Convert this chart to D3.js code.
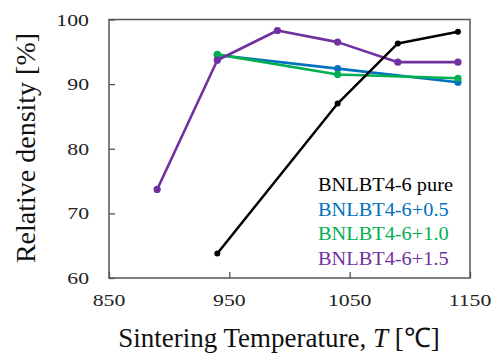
<!DOCTYPE html>
<html><head><meta charset="utf-8">
<script src="https://cdn.jsdelivr.net/npm/d3@7"></script>
<style>
body{margin:0;}
.ser{font-family:'Liberation Serif';}
</style>
</head><body>
<svg id="c" width="495" height="354"></svg>
<script>
const xTicks = [850, 950, 1050, 1150];
const yTicks = [60, 70, 80, 90, 100];
const seriesNames = ["BNLBT4-6+0.5", "BNLBT4-6+1.0", "BNLBT4-6+1.5", "BNLBT4-6 pure"];
const seriesColors = ["#0070c0", "#00b050", "#7030a0", "#000000"];
const tempBlue = [940, 1040, 1140];
const densBlue = [94.5, 92.4, 90.3];
const tempGreen = [940, 1040, 1140];
const densGreen = [94.6, 91.5, 90.9];
const tempPurple = [890, 940, 990, 1040, 1090, 1140];
const densPurple = [73.7, 93.7, 98.3, 96.5, 93.4, 93.4];
const tempPure = [940, 1040, 1090, 1140];
const densPure = [63.8, 87.0, 96.3, 98.1];
const legendOrder = ["BNLBT4-6 pure", "BNLBT4-6+0.5", "BNLBT4-6+1.0", "BNLBT4-6+1.5"];

const svg = d3.select("#c");
const L = 109, R = 470, T = 19.5, B = 278;
const x = d3.scaleLinear().domain([850, 1150]).range([L, R]);
const y = d3.scaleLinear().domain([60, 100]).range([B, T]);

const frameColor = "#555";
svg.append("g").attr("transform", `translate(0,${B})`)
  .call(d3.axisBottom(x).tickValues(xTicks).tickSize(-6).tickFormat(""))
  .call(g => { g.select(".domain").remove(); g.selectAll("line").attr("stroke", frameColor).attr("stroke-width", 1.3); });
svg.append("g").attr("transform", `translate(${L},0)`)
  .call(d3.axisLeft(y).tickValues(yTicks).tickSize(-6).tickFormat(""))
  .call(g => { g.select(".domain").remove(); g.selectAll("line").attr("stroke", frameColor).attr("stroke-width", 1.3); });

svg.append("rect").attr("x", L).attr("y", T).attr("width", R - L).attr("height", B - T)
  .attr("fill", "none").attr("stroke", frameColor).attr("stroke-width", 1.5);

xTicks.forEach(v => {
  svg.append("text").attr("class", "ser").attr("transform", `translate(${x(v)},306) scale(1.28,1)`)
    .attr("text-anchor", "middle").attr("font-size", 17).attr("fill", "#222").text(v);
});
yTicks.forEach(v => {
  svg.append("text").attr("class", "ser").attr("transform", `translate(89,${y(v) + 6}) scale(1.28,1)`)
    .attr("text-anchor", "end").attr("font-size", 17).attr("fill", "#222").text(v);
});

const data = [
  {t: tempBlue, d: densBlue},
  {t: tempGreen, d: densGreen},
  {t: tempPurple, d: densPurple},
  {t: tempPure, d: densPure}
];
const line = d3.line().x(p => x(p[0])).y(p => y(p[1]));
data.forEach((s, i) => {
  const pts = s.t.map((t, j) => [t, s.d[j]]);
  const col = seriesColors[i];
  const isPure = i === 3;
  svg.append("path").datum(pts).attr("d", line).attr("fill", "none")
    .attr("stroke", col).attr("stroke-width", isPure ? 2.5 : 2.6).attr("stroke-linejoin", "round");
  svg.selectAll(null).data(pts).enter().append("circle")
    .attr("cx", p => x(p[0])).attr("cy", p => y(p[1]))
    .attr("r", isPure ? 3 : 3.6).attr("fill", col);
});

legendOrder.forEach((name, k) => {
  const i = seriesNames.indexOf(name);
  svg.append("text").attr("class", "ser").attr("transform", `translate(318,${191 + k * 24.5}) scale(1.1,1)`)
    .attr("font-size", 18.5).attr("fill", seriesColors[i]).text(name);
});

const xt = svg.append("text").attr("class", "ser").attr("x", 279).attr("y", 347).attr("text-anchor", "middle")
  .attr("font-size", 27).attr("fill", "#111");
xt.append("tspan").text("Sintering Temperature, ");
xt.append("tspan").attr("font-style", "italic").text("T");
xt.append("tspan").text(" [\u2103]");

svg.append("text").attr("class", "ser").attr("transform", "translate(35,148) rotate(-90)").attr("text-anchor", "middle")
  .attr("font-size", 28).attr("fill", "#111").text("Relative density [%]");
</script></body></html>
